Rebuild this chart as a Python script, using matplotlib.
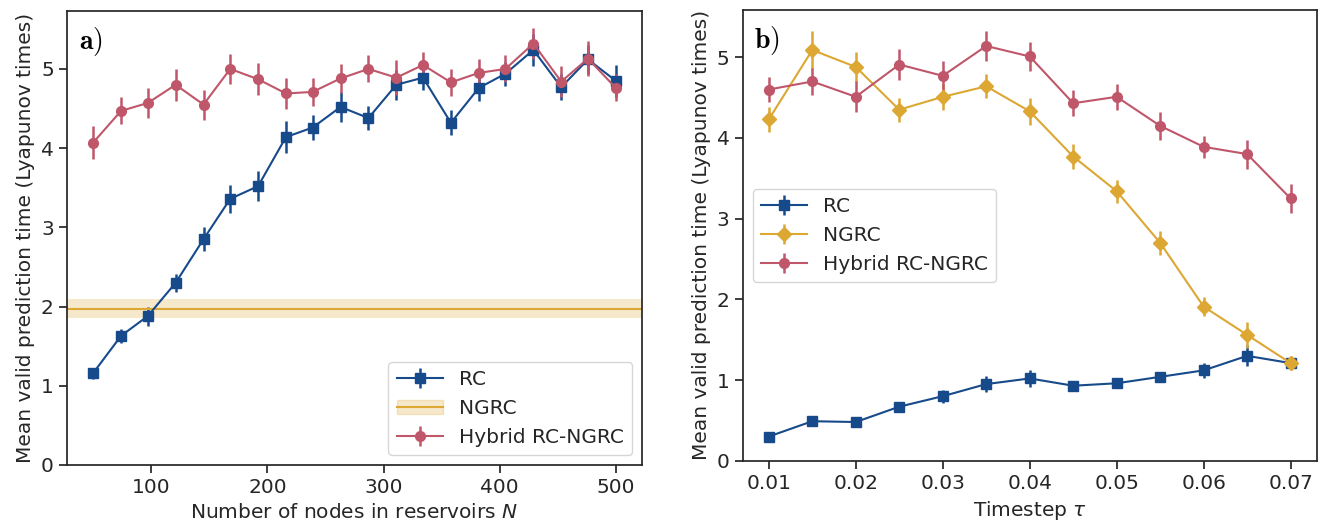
import matplotlib
matplotlib.use("Agg")
import matplotlib.pyplot as plt
from matplotlib.patches import Patch
from matplotlib.lines import Line2D

# ---------------- data: panel a ----------------
nodes = [50, 74, 97, 121, 145, 168, 192, 216, 239, 263,
         287, 311, 334, 358, 382, 405, 429, 453, 476, 500]
rc_a = [1.16, 1.63, 1.88, 2.30, 2.85, 3.36, 3.52, 4.14, 4.26, 4.52,
        4.38, 4.80, 4.89, 4.32, 4.76, 4.94, 5.24, 4.77, 5.12, 4.85]
rc_a_err = [0.07, 0.09, 0.12, 0.11, 0.15, 0.18, 0.19, 0.20, 0.16, 0.19,
            0.15, 0.19, 0.15, 0.16, 0.16, 0.15, 0.20, 0.16, 0.18, 0.20]
hyb_a = [4.07, 4.47, 4.57, 4.80, 4.55, 5.00, 4.87, 4.69, 4.71, 4.88,
         5.00, 4.89, 5.05, 4.83, 4.95, 5.00, 5.32, 4.84, 5.13, 4.76]
hyb_a_err = [0.21, 0.17, 0.19, 0.20, 0.19, 0.19, 0.20, 0.20, 0.18, 0.18,
             0.17, 0.22, 0.17, 0.17, 0.17, 0.17, 0.20, 0.20, 0.22, 0.17]
ngrc_a = 1.97
ngrc_a_err = 0.12

# ---------------- data: panel b ----------------
tau = [0.010, 0.015, 0.020, 0.025, 0.030, 0.035, 0.040,
       0.045, 0.050, 0.055, 0.060, 0.065, 0.070]
rc_b = [0.30, 0.49, 0.48, 0.67, 0.80, 0.95, 1.02, 0.93, 0.96, 1.04, 1.12, 1.30, 1.21]
rc_b_err = [0.03, 0.05, 0.03, 0.04, 0.08, 0.10, 0.10, 0.04, 0.04, 0.04, 0.09, 0.13, 0.07]
ngrc_b = [4.23, 5.09, 4.88, 4.35, 4.51, 4.64, 4.33, 3.77, 3.34, 2.70, 1.91, 1.56, 1.21]
ngrc_b_err = [0.15, 0.23, 0.19, 0.15, 0.16, 0.15, 0.17, 0.16, 0.14, 0.15, 0.12, 0.16, 0.09]
hyb_b = [4.60, 4.70, 4.51, 4.91, 4.77, 5.14, 5.01, 4.43, 4.51, 4.15, 3.89, 3.80, 3.25]
hyb_b_err = [0.15, 0.17, 0.19, 0.19, 0.18, 0.19, 0.18, 0.16, 0.16, 0.17, 0.14, 0.18, 0.18]

BLUE = "#174a8b"
RED = "#c0566a"
YEL = "#dca733"
TXT = "#262626"
FS = 14.5

plt.rcParams.update({
    "font.family": "DejaVu Sans",
    "font.size": FS,
    "text.color": TXT,
    "axes.labelcolor": TXT,
    "axes.edgecolor": TXT,
    "axes.linewidth": 1.25,
    "xtick.color": TXT,
    "ytick.color": TXT,
    "xtick.major.size": 6,
    "ytick.major.size": 6,
    "xtick.major.width": 1.25,
    "ytick.major.width": 1.25,
    "xtick.labelsize": FS,
    "ytick.labelsize": FS,
    "legend.fontsize": FS,
    "axes.labelsize": FS,
    "mathtext.fontset": "dejavusans",
})

fig = plt.figure(figsize=(13.22, 5.29), dpi=100)
axa = fig.add_axes([0.0507, 0.121, 0.4349, 0.858])
axb = fig.add_axes([0.5618, 0.129, 0.4342, 0.852])

ekw = dict(lw=1.5, elinewidth=1.8, capsize=0)

# panel a
h_rc = axa.errorbar(nodes, rc_a, yerr=rc_a_err, color=BLUE, marker="s", ms=7.5, **ekw)
axa.axhspan(ngrc_a - ngrc_a_err, ngrc_a + ngrc_a_err, color=YEL, alpha=0.25, lw=0)
axa.axhline(ngrc_a, color=YEL, lw=1.5)
h_hy = axa.errorbar(nodes, hyb_a, yerr=hyb_a_err, color=RED, marker="o", ms=7, **ekw)
h_ng = (Patch(facecolor=YEL, alpha=0.25, edgecolor=YEL), Line2D([], [], color=YEL, lw=1.5))
axa.legend([h_rc, h_ng, h_hy], ["RC", "NGRC", "Hybrid RC-NGRC"], loc="lower right",
           handlelength=2.3)
axa.set_xlim(27.5, 522.5)
axa.set_ylim(0, 5.73)
axa.set_xticks([100, 200, 300, 400, 500])
axa.set_yticks([0, 1, 2, 3, 4, 5])
axa.set_xlabel(r"Number of nodes in reservoirs $N$")
axa.set_ylabel("Mean valid prediction time (Lyapunov times)")
axa.text(0.02, 0.97, r"$\mathbf{a)}$", transform=axa.transAxes, ha="left", va="top",
         fontsize=20, math_fontfamily="cm", color="black")

# panel b
axb.errorbar(tau, rc_b, yerr=rc_b_err, color=BLUE, marker="s", ms=7.5, label="RC", **ekw)
axb.errorbar(tau, ngrc_b, yerr=ngrc_b_err, color=YEL, marker="D", ms=7.5, label="NGRC", **ekw)
axb.errorbar(tau, hyb_b, yerr=hyb_b_err, color=RED, marker="o", ms=7, label="Hybrid RC-NGRC", **ekw)
axb.legend(loc="center left", handlelength=2.3)
axb.set_xlim(0.007, 0.073)
axb.set_ylim(0, 5.585)
axb.set_xticks([0.01, 0.02, 0.03, 0.04, 0.05, 0.06, 0.07])
axb.set_xticklabels(["0.01", "0.02", "0.03", "0.04", "0.05", "0.06", "0.07"])
axb.set_yticks([0, 1, 2, 3, 4, 5])
axb.set_xlabel(r"Timestep $\tau$")
axb.set_ylabel("Mean valid prediction time (Lyapunov times)")
axb.text(0.02, 0.97, r"$\mathbf{b)}$", transform=axb.transAxes, ha="left", va="top",
         fontsize=20, math_fontfamily="cm", color="black")

fig.savefig("out.png", dpi=100)
